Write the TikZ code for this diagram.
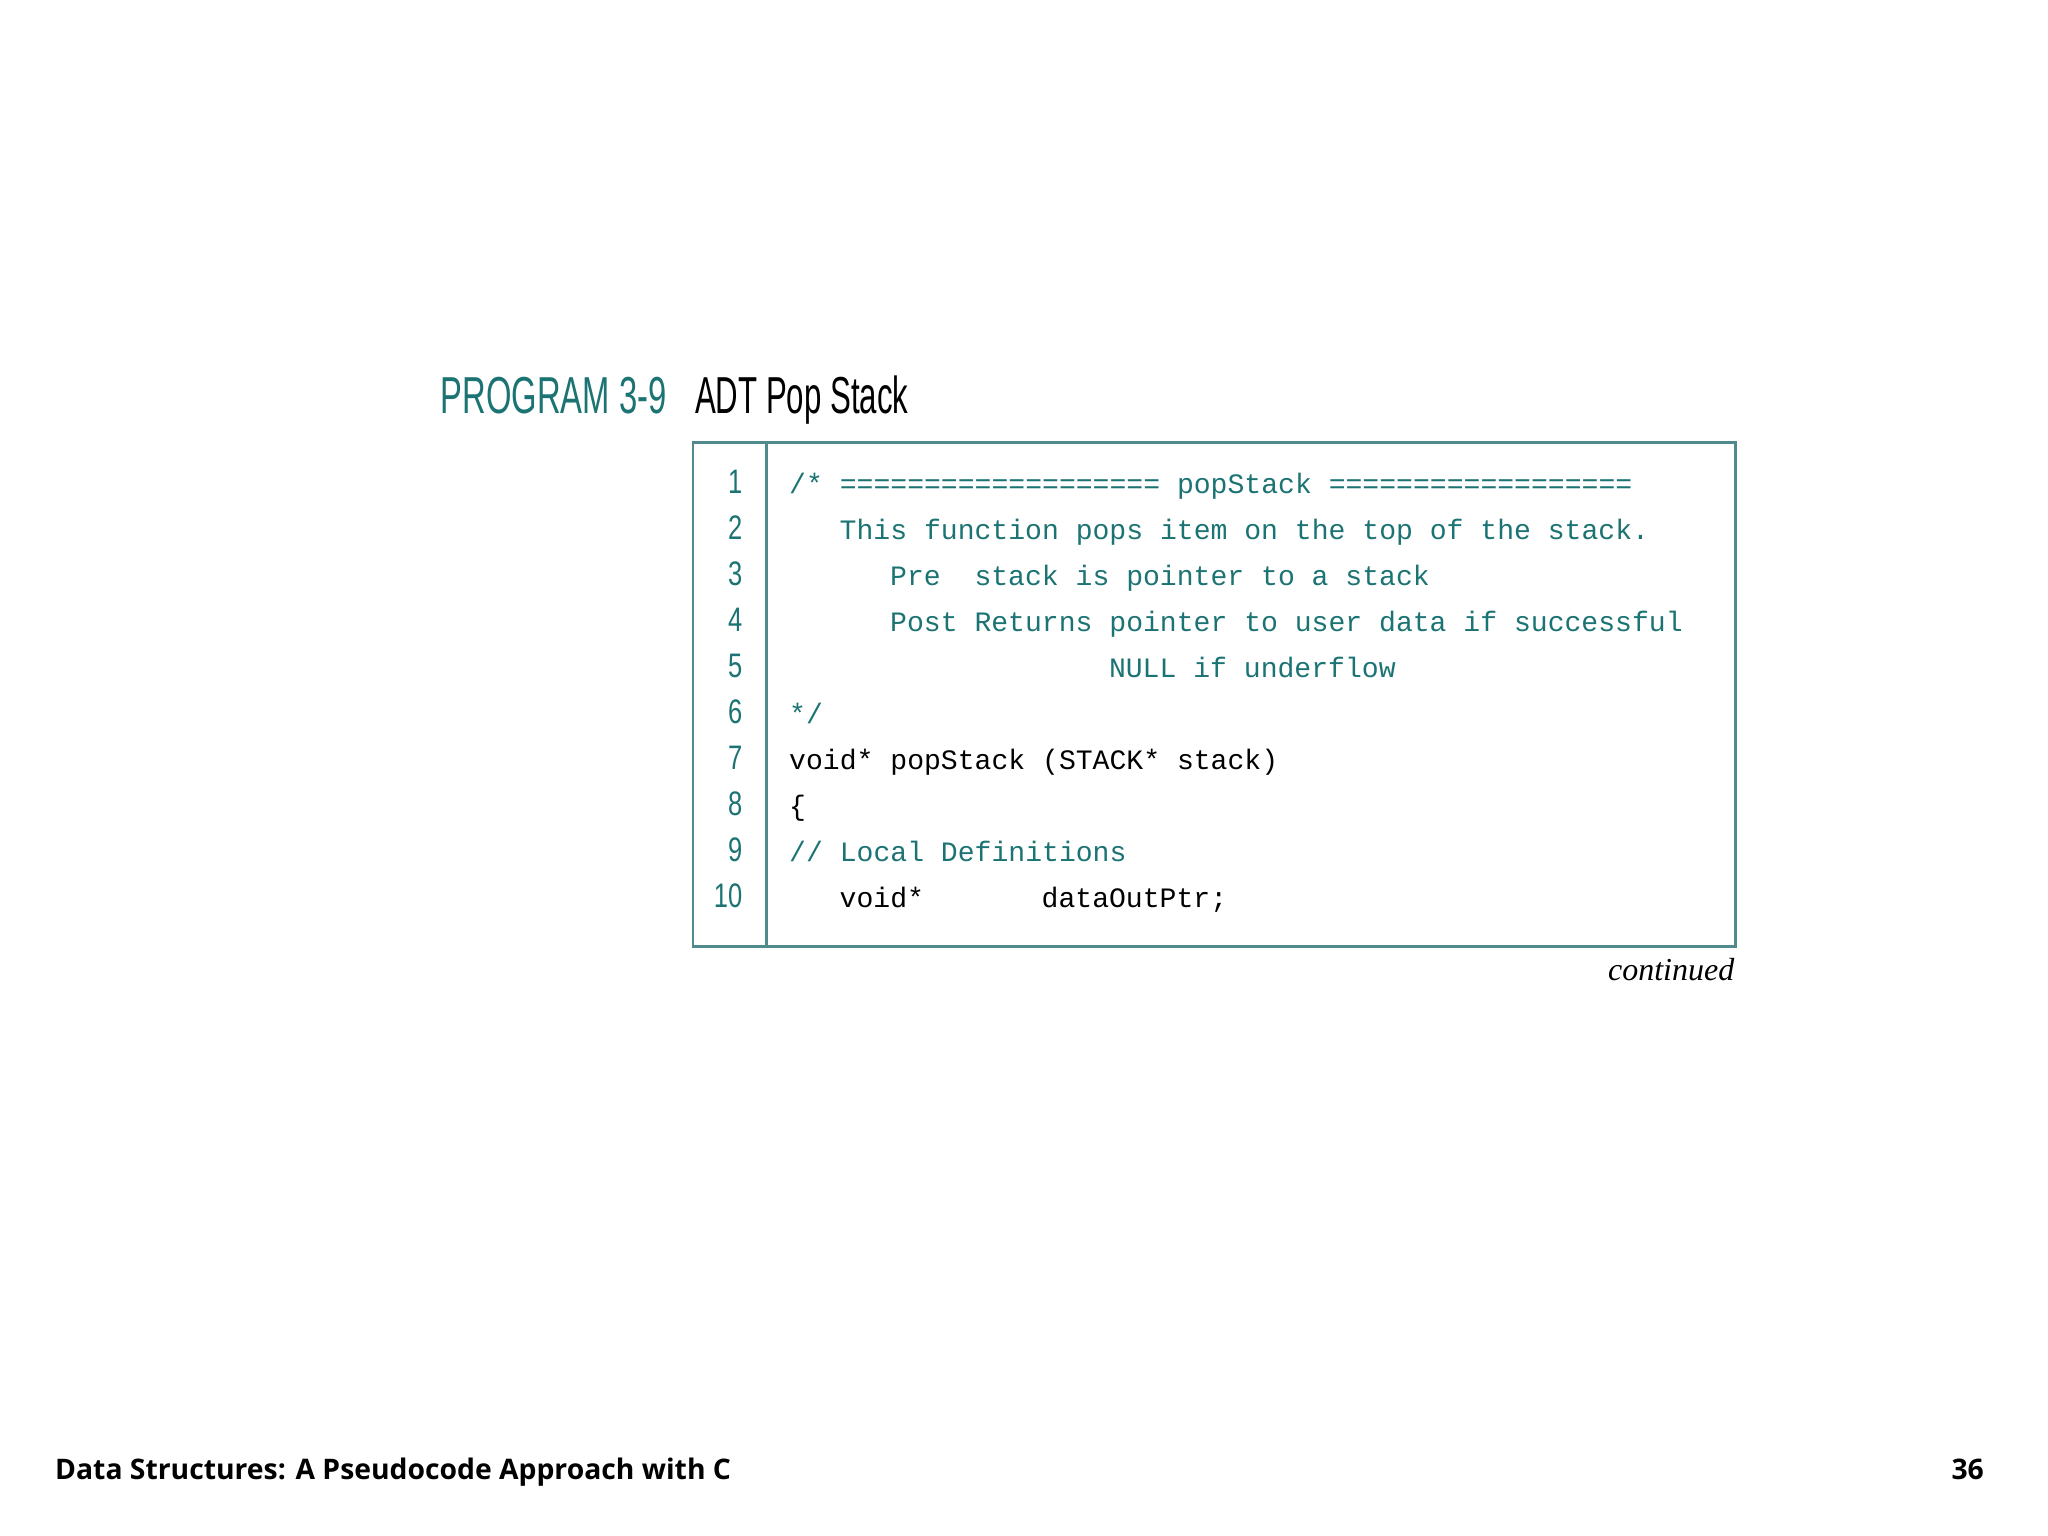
\documentclass[tikz,border=0pt]{standalone}
\usepackage{fontspec}
\setmainfont{Liberation Serif}
\newfontfamily\codefont{Liberation Mono}
\newfontfamily\numfont{Liberation Sans}
\newfontfamily\footfont{Open Sans}
\definecolor{teal1}{HTML}{1C7373}
\definecolor{boxc}{HTML}{4F8A8C}
\begin{document}
\begin{tikzpicture}[x=1pt,y=-1pt,
  code/.style={anchor=base west,inner sep=0pt,font=\codefont\fontsize{28.1}{30}\selectfont},
  cmt/.style={code,text=teal1},
  num/.style={anchor=base east,inner sep=0pt,text=teal1,xscale=0.75,font=\numfont\fontsize{34}{36}\selectfont}]
\useasboundingbox (0,0) rectangle (2048,1536);
\fill[white] (0,0) rectangle (2048,1536);
\begin{scope}[scale=0.99]
\node[anchor=base west,inner sep=0pt,text=teal1,xscale=0.63,font=\numfont\fontsize{52}{56}\selectfont] (t1) at (445,418) {PROGRAM 3-9};
\node[anchor=base west,inner sep=0pt,xscale=0.60,font=\numfont\fontsize{52}{56}\selectfont] (t2) at (702,418) {ADT Pop Stack};
\draw[boxc,line width=2.5pt] (700,447) rectangle (1753,956);
\draw[boxc,line width=2.5pt] (774,447) -- (774,956);
\foreach \i in {1,...,10}{
  \node[num] (n\i) at (750,{498+46.5*(\i-1)}) {\i};
}
\def\sp{17}
\node[cmt] (l1) at (797,498) {/* =================== popStack ==================};
\node[cmt] (l2) at (797+3*\sp,544.5) {This function pops item on the top of the stack.};
\node[cmt] (l3) at (797+6*\sp,591) {Pre\ \ stack is pointer to a stack};
\node[cmt] (l4) at (797+6*\sp,637.5) {Post Returns pointer to user data if successful};
\node[cmt] (l5) at (797+19*\sp,684) {NULL if underflow};
\node[cmt] (l6) at (797,730.5) {*/};
\node[code] (l7) at (797,777) {void* popStack (STACK* stack)};
\node[code] (l8) at (797,823.5) {\{};
\node[cmt] (l9) at (797,870) {// Local Definitions};
\node[code] (l10a) at (797+3*\sp,916.5) {void*};
\node[code] (l10b) at (797+15*\sp,916.5) {dataOutPtr;};
\node[anchor=base east,inner sep=0pt,font=\itshape\fontsize{32}{34}\selectfont] (cont) at (1752,990) {continued};
\end{scope}
\node[anchor=base west,inner sep=0pt,font=\footfont\bfseries\fontsize{28.3}{30}\selectfont] (f1) at (55,1479) {Data Structures: A Pseudocode Approach with C};
\node[anchor=base east,inner sep=0pt,font=\footfont\bfseries\fontsize{28.3}{30}\selectfont] (f2) at (1984,1479) {36};
\end{tikzpicture}
\end{document}
